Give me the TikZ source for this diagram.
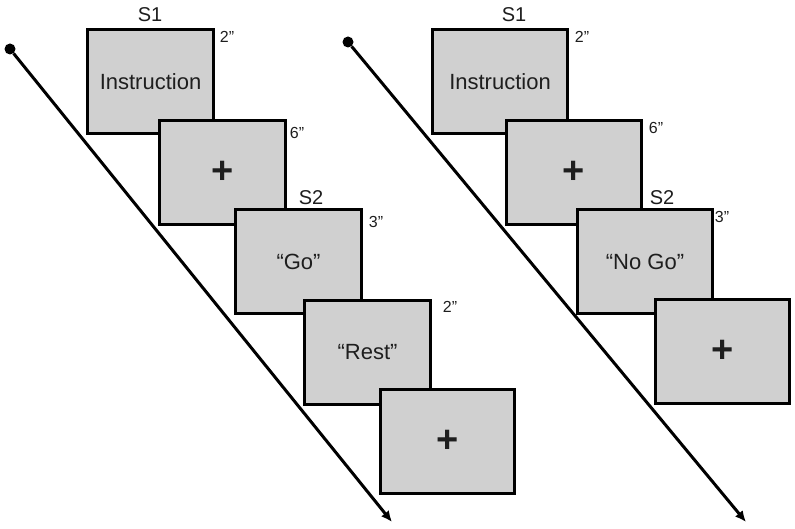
\documentclass[tikz,border=0pt]{standalone}
\usepackage{fontspec}
\setmainfont{Liberation Sans}
\usetikzlibrary{arrows.meta,positioning}
\definecolor{cinza}{RGB}{208,208,208}
\definecolor{texto}{RGB}{30,30,30}

\begin{document}
\begin{tikzpicture}[
    x=1pt,y=-1pt,
    every node/.style={inner sep=0pt,text=texto},
    tela/.style={draw,line width=3pt,fill=cinza,anchor=north west,
      minimum height=104pt,font=\fontsize{22}{24}\selectfont},
    cruz/.style={tela,font=\fontsize{38}{38}\selectfont\bfseries},
    estimulo/.style={font=\fontsize{20}{22}\selectfont},
    tempo/.style={font=\fontsize{16}{16}\selectfont},
    ponto/.style={circle,fill=black,minimum size=11pt},
    seta/.style={-{Latex[length=11pt,width=10pt]},line width=3pt}
  ]
    \useasboundingbox (0,0) rectangle (795,529);

    % tarefa Go
    \node[ponto] (inicioA) at (10,49) {};
    \coordinate (fimA) at (392,522);
    \draw[seta] (inicioA) -- (fimA);

    \node[tela,minimum width=126pt] (instrA) at (86,28) {Instruction};
    \node[cruz,minimum width=126pt] (fixA) at (158,119) {+};
    \node[tela,minimum width=126pt] (go) at (234,208) {“Go”};
    \node[tela,minimum width=126pt] (rest) at (303,299) {“Rest”};
    \node[cruz,minimum width=134pt] (fixB) at (379,388) {+};

    \node[estimulo] (s1A) at (150,15) {S1};
    \node[estimulo] (s2A) at (311,198) {S2};
    \node[tempo] (t1A) at (227,37) {2”};
    \node[tempo] (t2A) at (297,133) {6”};
    \node[tempo] (t3A) at (376,222) {3”};
    \node[tempo] (t4A) at (450,307) {2”};

    % tarefa No Go
    \node[ponto] (inicioB) at (348,42) {};
    \coordinate (fimB) at (746,522);
    \draw[seta] (inicioB) -- (fimB);

    \node[tela,minimum width=135pt] (instrB) at (431,28) {Instruction};
    \node[cruz,minimum width=135pt] (fixC) at (505,119) {+};
    \node[tela,minimum width=135pt] (nogo) at (576,208) {“No Go”};
    \node[cruz,minimum width=134pt] (fixD) at (654,298) {+};

    \node[estimulo] (s1B) at (514,15) {S1};
    \node[estimulo] (s2B) at (662,198) {S2};
    \node[tempo] (t1B) at (582,37) {2”};
    \node[tempo] (t2B) at (656,128) {6”};
    \node[tempo] (t3B) at (722,217) {3”};
  \end{tikzpicture}
\end{document}
